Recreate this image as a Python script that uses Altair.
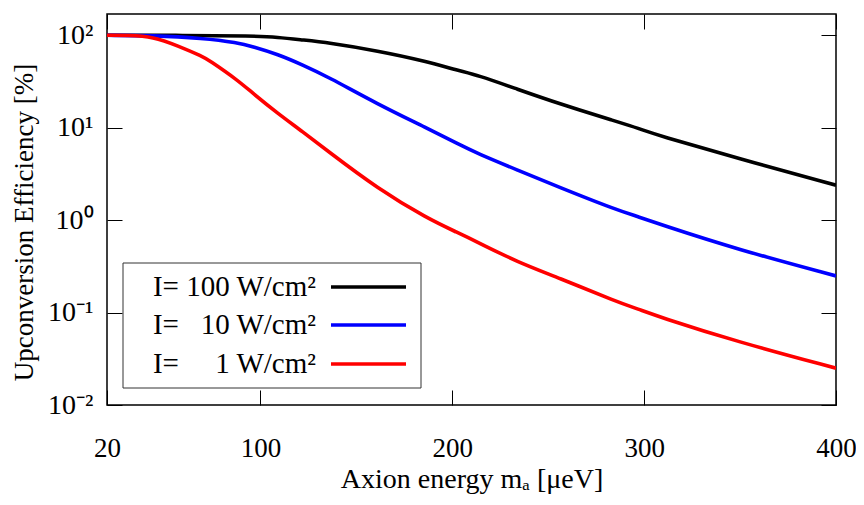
import altair as alt
import pandas as pd

# ---- data ----
x_100 = [20, 60, 96, 109, 122, 135, 161, 187, 203, 213, 234, 255, 286, 297, 307, 349, 400]
eff_100 = [100, 99.8, 98.6, 95.3, 89, 83.4, 68, 52, 41.5, 37.2, 26.1, 18.4, 11.6, 9.85, 8.3, 4.66, 2.39]

x_10 = [20, 44, 70, 88, 96, 109, 122, 135, 161, 187, 203, 213, 234, 255, 286, 297, 307, 349, 400]
eff_10 = [100, 99.5, 93, 83.4, 75.5, 62.4, 47.8, 35.7, 18, 9.85, 6.66, 5.28, 3.48, 2.30, 1.28, 1.09, 0.92, 0.48, 0.249]

x_1 = [20, 31, 44, 57, 70, 73, 88, 96, 109, 122, 135, 161, 187, 203, 213, 234, 255, 286, 297, 307, 349, 400]
eff_1 = [100, 99.8, 96.8, 77, 58.8, 54, 32.9, 23.6, 14.3, 9.05, 5.6, 2.2, 1.04, 0.73, 0.58, 0.352, 0.24, 0.130, 0.109, 0.091, 0.048, 0.025]

labels = ["I= 100 W/cm²", "I= \u200710 W/cm²", "I= \u2007\u20071 W/cm²"]
colors = ["#000000", "#0000ff", "#ff0000"]

x_ticks = [20, 100, 200, 300, 400]
y_ticks = [0.01, 0.1, 1, 10, 100]

series = [(labels[0], x_100, eff_100), (labels[1], x_10, eff_10), (labels[2], x_1, eff_1)]
rows = []
for name, xs, ys in series:
    for xv, yv in zip(xs, ys):
        rows.append({"series": name, "x": xv, "eff": yv})
df = pd.DataFrame(rows)

W, H = 729, 391
FONT = "Liberation Serif"
TICK = 15

x_scale = alt.Scale(domain=[20, 400], nice=False, zero=False)
y_scale = alt.Scale(type="log", domain=[0.01, 170], nice=False)

y_label_expr = ("datum.value >= 50 ? '10²' : datum.value >= 5 ? '10¹' : "
                "datum.value >= 0.5 ? '10⁰' : datum.value >= 0.05 ? '10⁻¹' : '10⁻²'")

lines = alt.Chart(df).mark_line(strokeWidth=3.6, interpolate="basis", clip=True).encode(
    x=alt.X("x:Q", scale=x_scale,
            axis=alt.Axis(orient="bottom", values=x_ticks, offset=-TICK, tickSize=TICK, domain=False, grid=False,
                          tickColor="black", labelFontSize=27, labelPadding=30, labelColor="black",
                          labelFlush=False, title="Axion energy mₐ [μeV]", titleFontSize=28,
                          titleFontWeight="normal", titlePadding=4, titleColor="black")),
    y=alt.Y("eff:Q", scale=y_scale,
            axis=alt.Axis(orient="left", values=y_ticks, labelExpr=y_label_expr, offset=-TICK, tickSize=TICK,
                          domain=False, grid=False, tickColor="black", labelFontSize=28,
                          labelPadding=14, labelColor="black", labelFlush=False,
                          title="Upconversion Efficiency [%]", titleFontSize=27, titleY=208,
                          titleFontWeight="normal", titlePadding=9, titleColor="black")),
    color=alt.Color("series:N", scale=alt.Scale(domain=labels, range=colors), legend=None),
    order=alt.Order("x:Q"),
)

mirror = alt.Chart(df).mark_line(opacity=0).encode(
    x=alt.X("x:Q", scale=x_scale,
            axis=alt.Axis(orient="top", values=x_ticks, offset=-TICK, tickSize=TICK, domain=False,
                          grid=False, labels=False, tickColor="black", title=None)),
    y=alt.Y("eff:Q", scale=y_scale,
            axis=alt.Axis(orient="right", values=y_ticks, offset=-TICK, tickSize=TICK, domain=False,
                          grid=False, labels=False, tickColor="black", title=None)),
)

box = alt.Chart(pd.DataFrame({"k": [0]})).mark_rect(fill="white", stroke="#333333", strokeWidth=1).encode(
    x=alt.value(16), x2=alt.value(314), y=alt.value(249), y2=alt.value(374)
)

row_y = [273, 311, 350]
legend_layers = []
for lab, col, ry in zip(labels, colors, row_y):
    ldf = pd.DataFrame({"label": [lab]})
    legend_layers.append(
        alt.Chart(ldf).mark_text(align="right", baseline="middle", fontSize=29, font=FONT, color="black").encode(
            text="label:N", x=alt.value(209), y=alt.value(ry))
    )
    legend_layers.append(
        alt.Chart(ldf).mark_rule(color=col, strokeWidth=3.6).encode(
            x=alt.value(224), x2=alt.value(299), y=alt.value(ry))
    )

chart = alt.layer(lines, mirror, box, *legend_layers).resolve_axis(
    x="independent", y="independent"
).properties(
    width=W, height=H,
    autosize=alt.AutoSizeParams(type="none"),
    padding={"left": 99, "top": 6, "right": 20, "bottom": 92},
).configure(font=FONT).configure_view(stroke="black", strokeWidth=1.5)

chart.save("out.html", embed_options={"renderer": "svg", "actions": False})
